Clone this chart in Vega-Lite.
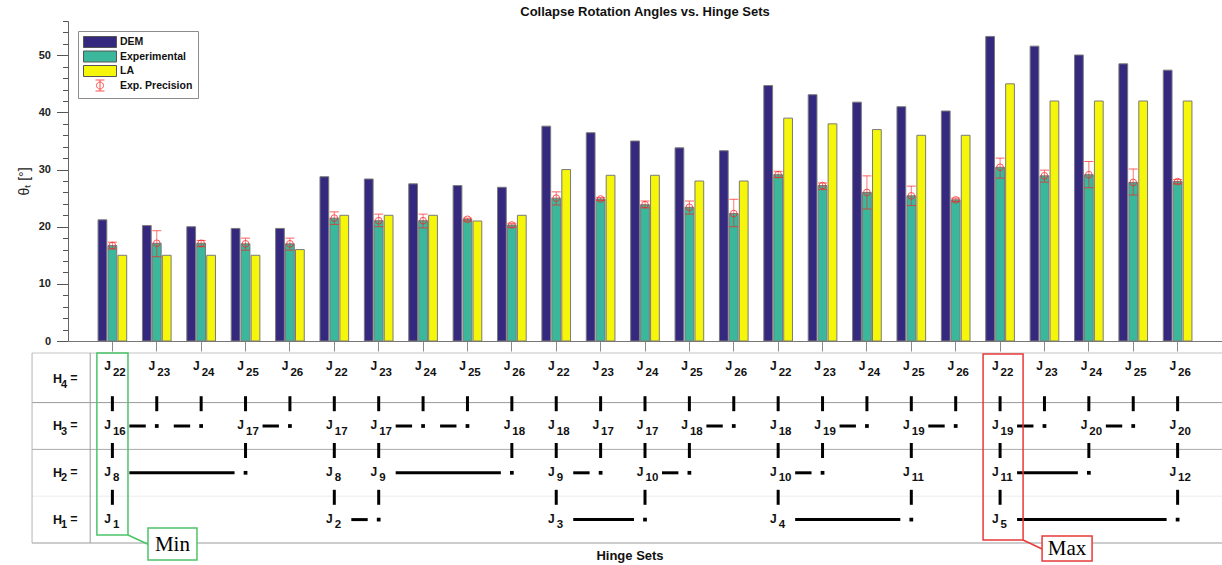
{
  "$schema": "https://vega.github.io/schema/vega-lite/v6.json",
  "background": "white",
  "padding": {"left": 17, "top": 5, "right": 0, "bottom": 0},
  "bounds": "flush",
  "spacing": 12,
  "config": {
    "font": "Liberation Sans",
    "view": {"stroke": null},
    "axis": {"labelFont": "Liberation Sans", "titleFont": "Liberation Sans"}
  },
  "datasets": {
    "angles": [
      {"set": 1, "method": "DEM", "angle": 21.2}, {"set": 1, "method": "Experimental", "angle": 16.7, "lo": 16.1, "hi": 17.3}, {"set": 1, "method": "LA", "angle": 15},
      {"set": 2, "method": "DEM", "angle": 20.2}, {"set": 2, "method": "Experimental", "angle": 17.1, "lo": 14.75, "hi": 19.3}, {"set": 2, "method": "LA", "angle": 15},
      {"set": 3, "method": "DEM", "angle": 20.0}, {"set": 3, "method": "Experimental", "angle": 17.1, "lo": 16.5, "hi": 17.6}, {"set": 3, "method": "LA", "angle": 15},
      {"set": 4, "method": "DEM", "angle": 19.7}, {"set": 4, "method": "Experimental", "angle": 17.0, "lo": 15.9, "hi": 18.0}, {"set": 4, "method": "LA", "angle": 15},
      {"set": 5, "method": "DEM", "angle": 19.7}, {"set": 5, "method": "Experimental", "angle": 17.0, "lo": 15.9, "hi": 18.0}, {"set": 5, "method": "LA", "angle": 16},
      {"set": 6, "method": "DEM", "angle": 28.75}, {"set": 6, "method": "Experimental", "angle": 21.5, "lo": 20.4, "hi": 22.6}, {"set": 6, "method": "LA", "angle": 22},
      {"set": 7, "method": "DEM", "angle": 28.35}, {"set": 7, "method": "Experimental", "angle": 21.05, "lo": 20.0, "hi": 22.2}, {"set": 7, "method": "LA", "angle": 22},
      {"set": 8, "method": "DEM", "angle": 27.5}, {"set": 8, "method": "Experimental", "angle": 21.05, "lo": 19.8, "hi": 22.2}, {"set": 8, "method": "LA", "angle": 22},
      {"set": 9, "method": "DEM", "angle": 27.2}, {"set": 9, "method": "Experimental", "angle": 21.3, "lo": 21.0, "hi": 21.5}, {"set": 9, "method": "LA", "angle": 21},
      {"set": 10, "method": "DEM", "angle": 26.9}, {"set": 10, "method": "Experimental", "angle": 20.3, "lo": 19.9, "hi": 20.6}, {"set": 10, "method": "LA", "angle": 22},
      {"set": 11, "method": "DEM", "angle": 37.6}, {"set": 11, "method": "Experimental", "angle": 25.0, "lo": 23.8, "hi": 26.1}, {"set": 11, "method": "LA", "angle": 30},
      {"set": 12, "method": "DEM", "angle": 36.45}, {"set": 12, "method": "Experimental", "angle": 24.85, "lo": 24.6, "hi": 25.1}, {"set": 12, "method": "LA", "angle": 29},
      {"set": 13, "method": "DEM", "angle": 35.0}, {"set": 13, "method": "Experimental", "angle": 23.85, "lo": 23.3, "hi": 24.5}, {"set": 13, "method": "LA", "angle": 29},
      {"set": 14, "method": "DEM", "angle": 33.8}, {"set": 14, "method": "Experimental", "angle": 23.4, "lo": 22.2, "hi": 24.5}, {"set": 14, "method": "LA", "angle": 28},
      {"set": 15, "method": "DEM", "angle": 33.3}, {"set": 15, "method": "Experimental", "angle": 22.3, "lo": 20.0, "hi": 24.8}, {"set": 15, "method": "LA", "angle": 28},
      {"set": 16, "method": "DEM", "angle": 44.7}, {"set": 16, "method": "Experimental", "angle": 29.1, "lo": 28.6, "hi": 29.7}, {"set": 16, "method": "LA", "angle": 39},
      {"set": 17, "method": "DEM", "angle": 43.1}, {"set": 17, "method": "Experimental", "angle": 27.2, "lo": 26.5, "hi": 27.65}, {"set": 17, "method": "LA", "angle": 38},
      {"set": 18, "method": "DEM", "angle": 41.8}, {"set": 18, "method": "Experimental", "angle": 26.0, "lo": 23.1, "hi": 28.9}, {"set": 18, "method": "LA", "angle": 37},
      {"set": 19, "method": "DEM", "angle": 41.0}, {"set": 19, "method": "Experimental", "angle": 25.4, "lo": 23.7, "hi": 27.1}, {"set": 19, "method": "LA", "angle": 36},
      {"set": 20, "method": "DEM", "angle": 40.25}, {"set": 20, "method": "Experimental", "angle": 24.7, "lo": 24.4, "hi": 25.0}, {"set": 20, "method": "LA", "angle": 36},
      {"set": 21, "method": "DEM", "angle": 53.3}, {"set": 21, "method": "Experimental", "angle": 30.4, "lo": 28.5, "hi": 32.0}, {"set": 21, "method": "LA", "angle": 45},
      {"set": 22, "method": "DEM", "angle": 51.6}, {"set": 22, "method": "Experimental", "angle": 28.9, "lo": 27.8, "hi": 29.9}, {"set": 22, "method": "LA", "angle": 42},
      {"set": 23, "method": "DEM", "angle": 50.05}, {"set": 23, "method": "Experimental", "angle": 29.1, "lo": 26.8, "hi": 31.4}, {"set": 23, "method": "LA", "angle": 42},
      {"set": 24, "method": "DEM", "angle": 48.5}, {"set": 24, "method": "Experimental", "angle": 27.75, "lo": 25.55, "hi": 30.1}, {"set": 24, "method": "LA", "angle": 42},
      {"set": 25, "method": "DEM", "angle": 47.4}, {"set": 25, "method": "Experimental", "angle": 27.9, "lo": 27.5, "hi": 28.25}, {"set": 25, "method": "LA", "angle": 42}
    ],
    "rows": [{"level": 1}, {"level": 2}, {"level": 3}, {"level": 4}],
    "nodes": [
      {"level": 4, "col": 1, "hinge": 22}, {"level": 4, "col": 2, "hinge": 23}, {"level": 4, "col": 3, "hinge": 24}, {"level": 4, "col": 4, "hinge": 25}, {"level": 4, "col": 5, "hinge": 26},
      {"level": 4, "col": 6, "hinge": 22}, {"level": 4, "col": 7, "hinge": 23}, {"level": 4, "col": 8, "hinge": 24}, {"level": 4, "col": 9, "hinge": 25}, {"level": 4, "col": 10, "hinge": 26},
      {"level": 4, "col": 11, "hinge": 22}, {"level": 4, "col": 12, "hinge": 23}, {"level": 4, "col": 13, "hinge": 24}, {"level": 4, "col": 14, "hinge": 25}, {"level": 4, "col": 15, "hinge": 26},
      {"level": 4, "col": 16, "hinge": 22}, {"level": 4, "col": 17, "hinge": 23}, {"level": 4, "col": 18, "hinge": 24}, {"level": 4, "col": 19, "hinge": 25}, {"level": 4, "col": 20, "hinge": 26},
      {"level": 4, "col": 21, "hinge": 22}, {"level": 4, "col": 22, "hinge": 23}, {"level": 4, "col": 23, "hinge": 24}, {"level": 4, "col": 24, "hinge": 25}, {"level": 4, "col": 25, "hinge": 26},
      {"level": 3, "col": 1, "hinge": 16}, {"level": 3, "col": 4, "hinge": 17}, {"level": 3, "col": 6, "hinge": 17}, {"level": 3, "col": 7, "hinge": 17},
      {"level": 3, "col": 10, "hinge": 18}, {"level": 3, "col": 11, "hinge": 18}, {"level": 3, "col": 12, "hinge": 17}, {"level": 3, "col": 13, "hinge": 17},
      {"level": 3, "col": 14, "hinge": 18}, {"level": 3, "col": 16, "hinge": 18}, {"level": 3, "col": 17, "hinge": 19}, {"level": 3, "col": 19, "hinge": 19},
      {"level": 3, "col": 21, "hinge": 19}, {"level": 3, "col": 23, "hinge": 20}, {"level": 3, "col": 25, "hinge": 20},
      {"level": 2, "col": 1, "hinge": 8}, {"level": 2, "col": 6, "hinge": 8}, {"level": 2, "col": 7, "hinge": 9}, {"level": 2, "col": 11, "hinge": 9},
      {"level": 2, "col": 13, "hinge": 10}, {"level": 2, "col": 16, "hinge": 10}, {"level": 2, "col": 19, "hinge": 11}, {"level": 2, "col": 21, "hinge": 11},
      {"level": 2, "col": 25, "hinge": 12},
      {"level": 1, "col": 1, "hinge": 1}, {"level": 1, "col": 6, "hinge": 2}, {"level": 1, "col": 11, "hinge": 3}, {"level": 1, "col": 16, "hinge": 4}, {"level": 1, "col": 21, "hinge": 5}
    ],
    "links": [
      {"level": 3, "from": 1, "to": 2}, {"level": 3, "from": 2, "to": 3}, {"level": 3, "from": 4, "to": 5}, {"level": 3, "from": 7, "to": 8},
      {"level": 3, "from": 8, "to": 9}, {"level": 3, "from": 14, "to": 15}, {"level": 3, "from": 17, "to": 18}, {"level": 3, "from": 19, "to": 20},
      {"level": 3, "from": 21, "to": 22}, {"level": 3, "from": 23, "to": 24},
      {"level": 2, "from": 1, "to": 4}, {"level": 2, "from": 7, "to": 10}, {"level": 2, "from": 11, "to": 12}, {"level": 2, "from": 13, "to": 14},
      {"level": 2, "from": 16, "to": 17}, {"level": 2, "from": 21, "to": 23},
      {"level": 1, "from": 6, "to": 7}, {"level": 1, "from": 11, "to": 13}, {"level": 1, "from": 16, "to": 19}, {"level": 1, "from": 21, "to": 25}
    ],
    "extremes": [{"col": 1, "label": "Min"}, {"col": 21, "label": "Max"}],
    "frame": [{}]
  },
  "vconcat": [
    {
      "width": 1154,
      "height": 320,
      "title": {"text": "Collapse Rotation Angles vs. Hinge Sets", "font": "Liberation Sans", "fontSize": 13, "fontWeight": "bold", "color": "#111", "offset": 2},
      "data": {"name": "angles"},
      "resolve": {"axis": {"y": "independent"}},
      "encoding": {
        "x": {
          "field": "set", "type": "ordinal",
          "scale": {"paddingInner": 0, "paddingOuter": 0.5},
          "axis": {"title": null, "labels": false, "ticks": true, "tickSize": 10, "tickColor": "#8a8a8a", "domainColor": "#777", "grid": false}
        },
        "xOffset": {
          "field": "method", "type": "nominal",
          "scale": {"domain": ["DEM", "Experimental", "LA"], "paddingInner": 0.12, "paddingOuter": 0.79}
        }
      },
      "layer": [
        {
          "mark": {"type": "bar", "stroke": "#7a7a7a", "strokeWidth": 1},
          "encoding": {
            "y": {
              "field": "angle", "type": "quantitative",
              "scale": {"domain": [0, 56], "nice": false, "zero": true},
              "axis": {
                "orient": "left",
                "title": "θₜ [°]", "titleFontSize": 14, "titleFontWeight": "normal", "titleColor": "#222", "titlePadding": 7,
                "values": [0, 10, 20, 30, 40, 50],
                "labelFontSize": 11, "labelFontWeight": "bold", "labelColor": "#222", "labelPadding": 6,
                "grid": false, "domainColor": "#666", "tickColor": "#555", "tickSize": 11.5,
                "encode": {"ticks": {"update": {"x": {"value": 11.5}}}}
              }
            },
            "fill": {
              "field": "method", "type": "nominal",
              "scale": {"domain": ["DEM", "Experimental", "LA", "Exp. Precision"], "range": ["#34297f", "#3bb79b", "#f6f60a", "transparent"]},
              "legend": {
                "title": null, "orient": "top-left", "offset": 10,
                "fillColor": "white", "strokeColor": "#8c8c8c", "padding": 5,
                "symbolType": "M-3,-1H3V1H-3Z", "symbolSize": 121, "symbolOffset": 11,
                "symbolStrokeWidth": 1, "symbolStrokeColor": "#666", "symbolOpacity": 1,
                "labelOffset": 14, "labelFont": "Liberation Sans", "labelFontSize": 10.5, "labelFontWeight": "bold", "labelColor": "#111",
                "rowPadding": -1.5,
                "encode": {"symbols": {"update": {
                  "shape": {"signal": "datum.value === 'Exp. Precision' ? 'M-0.82,-1H0.82M0,-1V1M-0.82,1H0.82M0.64,0A0.64,0.64,0,1,1,-0.64,0A0.64,0.64,0,1,1,0.64,0' : 'M-3,-1H3V1H-3Z'"},
                  "stroke": {"signal": "datum.value === 'Exp. Precision' ? '#ff5050' : '#555'"}
                }}}
              }
            }
          }
        },
        {
          "transform": [{"filter": "datum.method === 'Experimental'"}],
          "mark": {"type": "rule", "color": "#ff2020", "opacity": 0.6, "strokeWidth": 1},
          "encoding": {"y": {"field": "lo", "type": "quantitative", "axis": null}, "y2": {"field": "hi"}}
        },
        {
          "transform": [{"filter": "datum.method === 'Experimental'"}],
          "mark": {"type": "tick", "orient": "horizontal", "size": 9, "thickness": 1, "color": "#ff2020", "opacity": 0.7},
          "encoding": {"y": {"field": "lo", "type": "quantitative", "axis": null}}
        },
        {
          "transform": [{"filter": "datum.method === 'Experimental'"}],
          "mark": {"type": "tick", "orient": "horizontal", "size": 9, "thickness": 1, "color": "#ff2020", "opacity": 0.7},
          "encoding": {"y": {"field": "hi", "type": "quantitative", "axis": null}}
        },
        {
          "transform": [{"filter": "datum.method === 'Experimental'"}],
          "mark": {"type": "point", "shape": "circle", "filled": false, "color": "#ff2020", "size": 45, "strokeWidth": 1, "opacity": 0.75},
          "encoding": {
            "y": {
              "field": "angle", "type": "quantitative",
              "axis": {
                "orient": "left", "title": null, "labels": false, "domain": false, "grid": false,
                "values": [2, 4, 6, 8, 12, 14, 16, 18, 22, 24, 26, 28, 32, 34, 36, 38, 42, 44, 46, 48, 52, 54, 56],
                "tickColor": "#555", "tickSize": 5.5,
                "encode": {"ticks": {"update": {"x": {"value": 5.5}}}}
              }
            }
          }
        }
      ]
    },
    {
      "width": 1154,
      "height": 190,
      "title": {"text": "Hinge Sets", "orient": "bottom", "anchor": "middle", "dx": -15, "offset": -12, "font": "Liberation Sans", "fontSize": 13, "fontWeight": "bold", "color": "#111"},
      "layer": [
        {
          "data": {"name": "frame"},
          "mark": {"type": "rule", "color": "#c4c4c4", "strokeWidth": 1},
          "encoding": {
            "x": {"datum": -0.81, "type": "quantitative", "scale": {"domain": [0, 26], "nice": false, "zero": false}, "axis": null},
            "x2": {"datum": 26},
            "y": {"datum": 4.56, "type": "quantitative", "scale": {"domain": [0.5, 4.56], "nice": false, "zero": false}, "axis": null}
          }
        },
        {
          "data": {"name": "frame"},
          "mark": {"type": "rule", "color": "#9a9a9a", "strokeWidth": 1},
          "encoding": {
            "x": {"datum": -0.81, "type": "quantitative", "scale": {"domain": [0, 26], "nice": false, "zero": false}, "axis": null},
            "x2": {"datum": 26},
            "y": {"datum": 3.5, "type": "quantitative", "scale": {"domain": [0.5, 4.56], "nice": false, "zero": false}, "axis": null}
          }
        },
        {
          "data": {"name": "frame"},
          "mark": {"type": "rule", "color": "#ababab", "strokeWidth": 1},
          "encoding": {
            "x": {"datum": -0.81, "type": "quantitative", "scale": {"domain": [0, 26], "nice": false, "zero": false}, "axis": null},
            "x2": {"datum": 26},
            "y": {"datum": 2.5, "type": "quantitative", "scale": {"domain": [0.5, 4.56], "nice": false, "zero": false}, "axis": null}
          }
        },
        {
          "data": {"name": "frame"},
          "mark": {"type": "rule", "color": "#ececec", "strokeWidth": 1},
          "encoding": {
            "x": {"datum": -0.81, "type": "quantitative", "scale": {"domain": [0, 26], "nice": false, "zero": false}, "axis": null},
            "x2": {"datum": 26},
            "y": {"datum": 1.5, "type": "quantitative", "scale": {"domain": [0.5, 4.56], "nice": false, "zero": false}, "axis": null}
          }
        },
        {
          "data": {"name": "frame"},
          "mark": {"type": "rule", "color": "#9a9a9a", "strokeWidth": 1},
          "encoding": {
            "x": {"datum": -0.81, "type": "quantitative", "scale": {"domain": [0, 26], "nice": false, "zero": false}, "axis": null},
            "x2": {"datum": 26},
            "y": {"datum": 0.5, "type": "quantitative", "scale": {"domain": [0.5, 4.56], "nice": false, "zero": false}, "axis": null}
          }
        },
        {
          "data": {"name": "frame"},
          "mark": {"type": "rule", "color": "#b4b4b4", "strokeWidth": 1},
          "encoding": {
            "x": {"datum": -0.81, "type": "quantitative", "scale": {"domain": [0, 26], "nice": false, "zero": false}, "axis": null},
            "y": {"datum": 0.5, "type": "quantitative", "scale": {"domain": [0.5, 4.56], "nice": false, "zero": false}, "axis": null},
            "y2": {"datum": 4.56}
          }
        },
        {
          "data": {"name": "frame"},
          "mark": {"type": "rule", "color": "#9a9a9a", "strokeWidth": 1},
          "encoding": {
            "x": {"datum": 0.5, "type": "quantitative", "scale": {"domain": [0, 26], "nice": false, "zero": false}, "axis": null},
            "y": {"datum": 0.5, "type": "quantitative", "scale": {"domain": [0.5, 4.56], "nice": false, "zero": false}, "axis": null},
            "y2": {"datum": 4.56}
          }
        },
        {
          "data": {"name": "rows"},
          "mark": {"type": "text", "align": "center", "baseline": "middle", "dx": -10.5, "fontSize": 12.5, "fontWeight": "bold", "color": "#111"},
          "encoding": {
            "x": {"datum": 0, "type": "quantitative", "scale": {"domain": [0, 26], "nice": false, "zero": false}, "axis": null},
            "y": {"field": "level", "type": "quantitative", "scale": {"domain": [0.5, 4.56], "nice": false, "zero": false}, "axis": null},
            "text": {"value": "H"}
          }
        },
        {
          "data": {"name": "rows"},
          "mark": {"type": "text", "align": "center", "baseline": "middle", "dx": -4, "dy": 5.6, "fontSize": 11, "fontWeight": "bold", "color": "#111"},
          "encoding": {
            "x": {"datum": 0, "type": "quantitative", "scale": {"domain": [0, 26], "nice": false, "zero": false}, "axis": null},
            "y": {"field": "level", "type": "quantitative", "scale": {"domain": [0.5, 4.56], "nice": false, "zero": false}, "axis": null},
            "text": {"field": "level", "type": "nominal"}
          }
        },
        {
          "data": {"name": "rows"},
          "mark": {"type": "text", "align": "center", "baseline": "middle", "dx": 6, "dy": -1, "fontSize": 12.5, "fontWeight": "bold", "color": "#111"},
          "encoding": {
            "x": {"datum": 0, "type": "quantitative", "scale": {"domain": [0, 26], "nice": false, "zero": false}, "axis": null},
            "y": {"field": "level", "type": "quantitative", "scale": {"domain": [0.5, 4.56], "nice": false, "zero": false}, "axis": null},
            "text": {"value": "="}
          }
        },
        {
          "data": {"name": "nodes"},
          "transform": [{"filter": "datum.level > 1"}],
          "mark": {"type": "rule", "color": "black", "strokeWidth": 3, "strokeCap": "butt", "yOffset": 17, "y2Offset": 32},
          "encoding": {
            "x": {"field": "col", "type": "quantitative", "scale": {"domain": [0, 26], "nice": false, "zero": false}, "axis": null},
            "y": {"field": "level", "type": "quantitative", "scale": {"domain": [0.5, 4.56], "nice": false, "zero": false}, "axis": null},
            "y2": {"field": "level"}
          }
        },
        {
          "data": {"name": "links"},
          "mark": {"type": "rule", "color": "black", "strokeWidth": 3, "strokeCap": "butt", "xOffset": 17, "x2Offset": -11},
          "encoding": {
            "x": {"field": "from", "type": "quantitative", "scale": {"domain": [0, 26], "nice": false, "zero": false}, "axis": null},
            "x2": {"field": "to"},
            "y": {"field": "level", "type": "quantitative", "scale": {"domain": [0.5, 4.56], "nice": false, "zero": false}, "axis": null}
          }
        },
        {
          "data": {"name": "links"},
          "mark": {"type": "point", "shape": "square", "filled": true, "color": "black", "size": 14, "opacity": 1},
          "encoding": {
            "x": {"field": "to", "type": "quantitative", "scale": {"domain": [0, 26], "nice": false, "zero": false}, "axis": null},
            "y": {"field": "level", "type": "quantitative", "scale": {"domain": [0.5, 4.56], "nice": false, "zero": false}, "axis": null}
          }
        },
        {
          "data": {"name": "nodes"},
          "transform": [{"filter": "datum.level === 4"}],
          "mark": {"type": "text", "align": "right", "baseline": "middle", "dx": -1.5, "dy": -13, "fontSize": 12, "fontWeight": "bold", "color": "#111"},
          "encoding": {
            "x": {"field": "col", "type": "quantitative", "scale": {"domain": [0, 26], "nice": false, "zero": false}, "axis": null},
            "y": {"field": "level", "type": "quantitative", "scale": {"domain": [0.5, 4.56], "nice": false, "zero": false}, "axis": null},
            "text": {"value": "J"}
          }
        },
        {
          "data": {"name": "nodes"},
          "transform": [{"filter": "datum.level === 4"}],
          "mark": {"type": "text", "align": "left", "baseline": "middle", "dx": 0.5, "dy": -6, "fontSize": 11.5, "fontWeight": "bold", "color": "#111"},
          "encoding": {
            "x": {"field": "col", "type": "quantitative", "scale": {"domain": [0, 26], "nice": false, "zero": false}, "axis": null},
            "y": {"field": "level", "type": "quantitative", "scale": {"domain": [0.5, 4.56], "nice": false, "zero": false}, "axis": null},
            "text": {"field": "hinge", "type": "nominal"}
          }
        },
        {
          "data": {"name": "nodes"},
          "transform": [{"filter": "datum.level < 4"}],
          "mark": {"type": "text", "align": "right", "baseline": "middle", "dx": -1.5, "dy": -1, "fontSize": 12, "fontWeight": "bold", "color": "#111"},
          "encoding": {
            "x": {"field": "col", "type": "quantitative", "scale": {"domain": [0, 26], "nice": false, "zero": false}, "axis": null},
            "y": {"field": "level", "type": "quantitative", "scale": {"domain": [0.5, 4.56], "nice": false, "zero": false}, "axis": null},
            "text": {"value": "J"}
          }
        },
        {
          "data": {"name": "nodes"},
          "transform": [{"filter": "datum.level < 4"}],
          "mark": {"type": "text", "align": "left", "baseline": "middle", "dx": 0.5, "dy": 5.6, "fontSize": 11.5, "fontWeight": "bold", "color": "#111"},
          "encoding": {
            "x": {"field": "col", "type": "quantitative", "scale": {"domain": [0, 26], "nice": false, "zero": false}, "axis": null},
            "y": {"field": "level", "type": "quantitative", "scale": {"domain": [0.5, 4.56], "nice": false, "zero": false}, "axis": null},
            "text": {"field": "hinge", "type": "nominal"}
          }
        },
        {
          "data": {"name": "extremes"},
          "transform": [{"filter": "datum.label === 'Min'"}],
          "layer": [
            {
              "mark": {"type": "rect", "fill": "transparent", "stroke": "#4cc46a", "strokeWidth": 1.5, "xOffset": -15.5, "x2Offset": 15.6, "y2Offset": -8},
              "encoding": {
                "x": {"field": "col", "type": "quantitative", "scale": {"domain": [0, 26], "nice": false, "zero": false}, "axis": null},
                "x2": {"field": "col"},
                "y": {"datum": 4.56, "type": "quantitative", "scale": {"domain": [0.5, 4.56], "nice": false, "zero": false}, "axis": null},
                "y2": {"datum": 0.5}
              }
            },
            {
              "mark": {"type": "rule", "color": "#4cc46a", "strokeWidth": 1.5, "xOffset": 15.6, "yOffset": -8, "x2Offset": 35.6, "y2Offset": 1.3},
              "encoding": {
                "x": {"field": "col", "type": "quantitative", "scale": {"domain": [0, 26], "nice": false, "zero": false}, "axis": null},
                "x2": {"field": "col"},
                "y": {"datum": 0.5, "type": "quantitative", "scale": {"domain": [0.5, 4.56], "nice": false, "zero": false}, "axis": null},
                "y2": {"datum": 0.5}
              }
            },
            {
              "mark": {"type": "rect", "fill": "white", "stroke": "#4cc46a", "strokeWidth": 1.5, "xOffset": 35.6, "x2Offset": 84.6, "yOffset": -15, "y2Offset": 17},
              "encoding": {
                "x": {"field": "col", "type": "quantitative", "scale": {"domain": [0, 26], "nice": false, "zero": false}, "axis": null},
                "x2": {"field": "col"},
                "y": {"datum": 0.5, "type": "quantitative", "scale": {"domain": [0.5, 4.56], "nice": false, "zero": false}, "axis": null},
                "y2": {"datum": 0.5}
              }
            },
            {
              "mark": {"type": "text", "align": "center", "baseline": "middle", "dx": 60, "dy": 1.5, "font": "Liberation Serif", "fontSize": 21, "color": "black"},
              "encoding": {
                "x": {"field": "col", "type": "quantitative", "scale": {"domain": [0, 26], "nice": false, "zero": false}, "axis": null},
                "y": {"datum": 0.5, "type": "quantitative", "scale": {"domain": [0.5, 4.56], "nice": false, "zero": false}, "axis": null},
                "text": {"field": "label", "type": "nominal"}
              }
            }
          ]
        },
        {
          "data": {"name": "extremes"},
          "transform": [{"filter": "datum.label === 'Max'"}],
          "layer": [
            {
              "mark": {"type": "rect", "fill": "transparent", "stroke": "#e83a3a", "strokeWidth": 1.5, "xOffset": -17, "x2Offset": 23, "yOffset": 1, "y2Offset": -3},
              "encoding": {
                "x": {"field": "col", "type": "quantitative", "scale": {"domain": [0, 26], "nice": false, "zero": false}, "axis": null},
                "x2": {"field": "col"},
                "y": {"datum": 4.56, "type": "quantitative", "scale": {"domain": [0.5, 4.56], "nice": false, "zero": false}, "axis": null},
                "y2": {"datum": 0.5}
              }
            },
            {
              "mark": {"type": "rule", "color": "#e83a3a", "strokeWidth": 1.5, "xOffset": 23, "yOffset": -3, "x2Offset": 42, "y2Offset": 6},
              "encoding": {
                "x": {"field": "col", "type": "quantitative", "scale": {"domain": [0, 26], "nice": false, "zero": false}, "axis": null},
                "x2": {"field": "col"},
                "y": {"datum": 0.5, "type": "quantitative", "scale": {"domain": [0.5, 4.56], "nice": false, "zero": false}, "axis": null},
                "y2": {"datum": 0.5}
              }
            },
            {
              "mark": {"type": "rect", "fill": "white", "stroke": "#e83a3a", "strokeWidth": 1.5, "xOffset": 42, "x2Offset": 92, "yOffset": -7, "y2Offset": 18},
              "encoding": {
                "x": {"field": "col", "type": "quantitative", "scale": {"domain": [0, 26], "nice": false, "zero": false}, "axis": null},
                "x2": {"field": "col"},
                "y": {"datum": 0.5, "type": "quantitative", "scale": {"domain": [0.5, 4.56], "nice": false, "zero": false}, "axis": null},
                "y2": {"datum": 0.5}
              }
            },
            {
              "mark": {"type": "text", "align": "center", "baseline": "middle", "dx": 67, "dy": 6, "font": "Liberation Serif", "fontSize": 21, "color": "black"},
              "encoding": {
                "x": {"field": "col", "type": "quantitative", "scale": {"domain": [0, 26], "nice": false, "zero": false}, "axis": null},
                "y": {"datum": 0.5, "type": "quantitative", "scale": {"domain": [0.5, 4.56], "nice": false, "zero": false}, "axis": null},
                "text": {"field": "label", "type": "nominal"}
              }
            }
          ]
        }
      ]
    }
  ]
}
